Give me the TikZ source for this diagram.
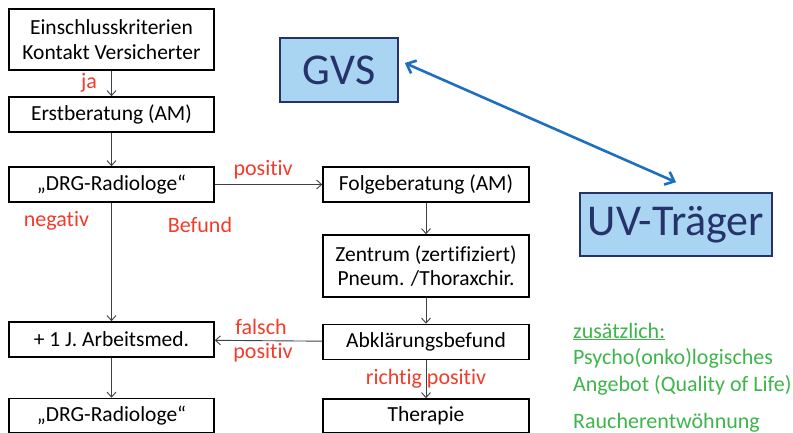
\documentclass[tikz,border=0pt]{standalone}
\usepackage{fontspec}
\setmainfont{Carlito}[Ligatures=NoCommon]
\usepackage{tikz}
\usetikzlibrary{arrows.meta, positioning, calc}

\definecolor{lblred}{HTML}{F23B2B}
\definecolor{addgreen}{HTML}{3DB54A}
\definecolor{boxblue}{HTML}{A9D5F2}
\definecolor{navy}{HTML}{26336B}
\definecolor{linkblue}{HTML}{1F6FC0}

\begin{document}
\begin{tikzpicture}[
  x=1pt, y=-1pt,
  flowbox/.style={rectangle, draw=black, line width=1.6pt, minimum width=205pt, minimum height=35pt, align=center, inner sep=2pt, font=\fontsize{21.5}{24.5}\selectfont},
  partybox/.style={rectangle, draw=navy, fill=boxblue, line width=1.6pt, text=navy, font=\fontsize{44}{46}\selectfont},
  arrow/.style={-{Straight Barb[length=5pt,width=9pt]}, line width=0.9pt, black!75},
  link/.style={{Straight Barb[length=8pt,width=14pt]}-{Straight Barb[length=8pt,width=14pt]}, line width=2.6pt, linkblue},
  redlabel/.style={text=lblred, font=\fontsize{22}{24}\selectfont, inner sep=0pt},
  greentext/.style={text=addgreen, font=\fontsize{22}{24}\selectfont, anchor=base west, inner sep=0pt}
]
\useasboundingbox (0,0) rectangle (793,433);

% left column
\node[flowbox, minimum height=61pt] (einschluss) at (111.5,39.5) {Einschlusskriterien\\Kontakt Versicherter};
\node[flowbox, below of=einschluss, node distance=75pt] (erst) {Erstberatung (AM)};
\node[flowbox, below of=erst, node distance=70pt] (drg1) {„DRG-Radiologe“};
\node[flowbox, below of=drg1, node distance=155pt] (arbeit) {+ 1 J. Arbeitsmed.};
\node[flowbox, below of=arbeit, node distance=76pt, minimum height=34pt] (drg2) {„DRG-Radiologe“};

% right column
\node[flowbox, right of=drg1, node distance=314.5pt, minimum width=206pt] (folge) {Folgeberatung (AM)};
\node[flowbox, below of=folge, node distance=81.5pt, minimum width=206pt, minimum height=62pt] (zentrum) {Zentrum (zertifiziert)\\Pneum. /Thoraxchir.};
\node[flowbox, below of=zentrum, node distance=76pt, minimum width=206pt] (abkl) {Abklärungsbefund};
\node[flowbox, below of=abkl, node distance=74pt, minimum width=206pt, minimum height=34pt] (therapie) {Therapie};

% parties
\node[partybox, minimum width=118pt, minimum height=64pt] (gvs) at (339,70) {GVS};
\node[partybox, minimum width=192pt, minimum height=63pt] (uv) at (676,224.5) {UV-Träger};

% connectors
\draw[arrow] (einschluss) -- (erst);
\draw[arrow] (erst) -- (drg1);
\draw[arrow] (drg1) -- node[redlabel, above=5pt, pos=0.45] (pos1) {positiv} (folge);
\draw[arrow] (drg1) -- (arbeit);
\draw[arrow] (arbeit) -- (drg2);
\draw[arrow] (folge) -- (zentrum);
\draw[arrow] (zentrum) -- (abkl);
\draw[arrow] (abkl) -- (arbeit);
\draw[arrow] (abkl) -- node[redlabel, pos=0.5] (richtig) {richtig positiv} (therapie);
\draw[link] ([xshift=6pt, yshift=7pt]gvs.east) -- ([yshift=10pt]uv.north);

% labels
\node[redlabel] (ja) at (89,83) {ja};
\node[redlabel] (negativ) at (56.5,221) {negativ};
\node[redlabel] (befund) at (200,225) {Befund};
\node[redlabel] (falsch) at (261,327) {falsch};
\node[redlabel] (pos2) at (263,353) {positiv};

% additional offers
\node[greentext] (zus) at (573,338) {\underline{zusätzlich:}};
\node[greentext] (psycho) at (573,364) {Psycho(onko)logisches};
\node[greentext] (angebot) at (573,391) {Angebot (Quality of Life)};
\node[greentext] (rauch) at (573,428) {Raucherentwöhnung};

\end{tikzpicture}
\end{document}
